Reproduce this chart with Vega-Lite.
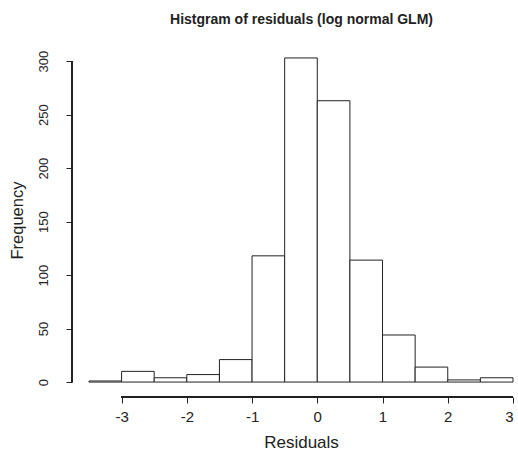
{
  "$schema": "https://vega.github.io/schema/vega-lite/v6.json",
  "autosize": {"type": "none"},
  "padding": {"left": 72, "top": 45, "right": 5, "bottom": 57},
  "width": 441,
  "height": 350,
  "background": "white",
  "config": {
    "view": {"stroke": null},
    "font": "Liberation Sans",
    "axis": {
      "grid": false,
      "domain": false,
      "tickColor": "#222",
      "tickWidth": 1,
      "tickSize": 6,
      "labelColor": "#222",
      "titleColor": "#222",
      "labelFont": "Liberation Sans",
      "titleFont": "Liberation Sans",
      "titleFontWeight": "normal"
    }
  },
  "title": {
    "text": "Histgram of residuals (log normal GLM)",
    "font": "Liberation Sans",
    "fontSize": 14,
    "fontWeight": "bold",
    "color": "#222",
    "offset": 18,
    "dx": 9
  },
  "data": {
    "values": [
      {"bin_start": -3.5, "bin_end": -3.0, "count": 1},
      {"bin_start": -3.0, "bin_end": -2.5, "count": 10},
      {"bin_start": -2.5, "bin_end": -2.0, "count": 4},
      {"bin_start": -2.0, "bin_end": -1.5, "count": 7},
      {"bin_start": -1.5, "bin_end": -1.0, "count": 21},
      {"bin_start": -1.0, "bin_end": -0.5, "count": 118},
      {"bin_start": -0.5, "bin_end": 0.0, "count": 303},
      {"bin_start": 0.0, "bin_end": 0.5, "count": 263},
      {"bin_start": 0.5, "bin_end": 1.0, "count": 114},
      {"bin_start": 1.0, "bin_end": 1.5, "count": 44},
      {"bin_start": 1.5, "bin_end": 2.0, "count": 14},
      {"bin_start": 2.0, "bin_end": 2.5, "count": 2},
      {"bin_start": 2.5, "bin_end": 3.0, "count": 4}
    ]
  },
  "layer": [
    {
      "mark": {"type": "bar", "fill": "white", "stroke": "#222", "strokeWidth": 1},
      "encoding": {
        "x": {
          "field": "bin_start",
          "type": "quantitative",
          "scale": {"domain": [-3.76, 3.0], "nice": false, "zero": false},
          "axis": {
            "values": [-3, -2, -1, 0, 1, 2, 3],
            "labelExpr": "'' + datum.value",
            "labelFontSize": 15,
            "offset": 2,
            "labelPadding": 6,
            "title": "Residuals",
            "titleFontSize": 17,
            "titlePadding": 10,
            "titleX": 229
          }
        },
        "x2": {"field": "bin_end"},
        "y": {
          "field": "count",
          "type": "quantitative",
          "scale": {"domain": [-12.1, 315.1], "nice": false, "zero": false},
          "axis": {
            "values": [0, 50, 100, 150, 200, 250, 300],
            "labelAngle": -90,
            "labelFontSize": 13,
            "labelPadding": 16,
            "title": "Frequency",
            "titleFontSize": 16.5,
            "titlePadding": 12
          }
        },
        "y2": {"datum": 0}
      }
    },
    {
      "mark": {"type": "rule", "color": "#222", "strokeWidth": 1},
      "encoding": {
        "x": {"datum": -3},
        "x2": {"datum": 3},
        "y": {"datum": -14}
      }
    },
    {
      "mark": {"type": "rule", "color": "#222", "strokeWidth": 1},
      "encoding": {
        "x": {"datum": -3.76},
        "y": {"datum": 0},
        "y2": {"datum": 300}
      }
    }
  ]
}
